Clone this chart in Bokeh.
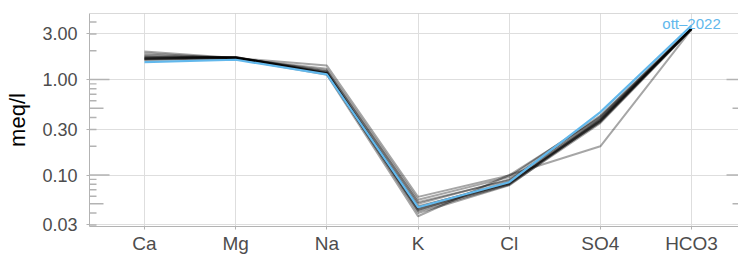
import math
from bokeh.plotting import figure
from bokeh.models import FixedTicker, Span, Range1d, PrintfTickFormatter
from bokeh.embed import file_html
from bokeh.resources import INLINE
from bokeh.core.properties import value

ions = ["Ca", "Mg", "Na", "K", "Cl", "SO4", "HCO3"]

# historical samples (one value per sample for each ion), meq/l
ca = [1.96, 1.88, 1.80, 1.72, 1.68, 1.65, 1.64, 1.62, 1.66, 1.70, 1.60, 1.75]
mg = [1.68, 1.66, 1.70, 1.72, 1.70, 1.71, 1.69, 1.67, 1.72, 1.70, 1.65, 1.68]
na = [1.40, 1.30, 1.22, 1.18, 1.16, 1.15, 1.14, 1.17, 1.16, 1.20, 1.12, 1.25]
k = [0.059, 0.055, 0.050, 0.046, 0.045, 0.044, 0.042, 0.040, 0.047, 0.043, 0.037, 0.052]
cl = [0.099, 0.095, 0.090, 0.085, 0.082, 0.080, 0.079, 0.078, 0.081, 0.083, 0.100, 0.088]
so4 = [0.40, 0.42, 0.38, 0.37, 0.36, 0.38, 0.35, 0.37, 0.39, 0.36, 0.20, 0.41]
hco3 = [3.40, 3.45, 3.42, 3.38, 3.40, 3.44, 3.36, 3.42, 3.40, 3.38, 3.35, 3.46]

# highlighted latest sample
latest = [1.52, 1.61, 1.13, 0.046, 0.084, 0.455, 3.68]
latest_label = "ott\u20132022"

y_breaks = [0.03, 0.1, 0.3, 1, 3]

FONT = "Liberation Sans"
GRID = "#dedede"
BORDER = "#b3b3b3"
TXT = "#4d4d4d"
BLUE = "#62B8EC"

xpos = list(range(1, len(ions) + 1))
x_lo, x_hi = 0.397, 7.515
panel_right = 7.603
y_lo, y_hi = 0.0289, 4.91

p = figure(width=738, height=256, y_axis_type="log",
           x_range=Range1d(x_lo, x_hi), y_range=Range1d(y_lo, y_hi),
           output_backend="svg", toolbar_location=None,
           min_border_left=89, min_border_top=13, min_border_bottom=30,
           min_border_right=0)
p.outline_line_color = None
p.background_fill_color = "white"

# grids
p.xgrid.ticker = FixedTicker(ticks=xpos)
p.ygrid.ticker = FixedTicker(ticks=y_breaks)
for g in (p.xgrid, p.ygrid):
    g.grid_line_color = GRID
    g.grid_line_width = 1

# axes
for ax in (p.xaxis, p.yaxis):
    ax.axis_line_color = BORDER
    ax.axis_line_width = 1
    ax.major_tick_line_color = BORDER
    ax.major_tick_out = 3
    ax.major_tick_in = 0
    ax.minor_tick_line_color = None
    ax.major_label_text_color = TXT
    ax.major_label_text_font = FONT

p.xaxis.ticker = FixedTicker(ticks=xpos)
p.xaxis.major_label_overrides = {x: lab for x, lab in zip(xpos, ions)}
p.xaxis.major_label_text_font_size = "19px"
p.xaxis.major_label_standoff = 3

p.yaxis.ticker = FixedTicker(ticks=y_breaks, minor_ticks=[])
p.yaxis.formatter = PrintfTickFormatter(format="%.2f")
p.yaxis.major_label_text_font_size = "18px"
p.yaxis.major_label_standoff = 9
p.yaxis.axis_label = "meq/l"
p.yaxis.axis_label_text_font = FONT
p.yaxis.axis_label_text_font_style = "normal"
p.yaxis.axis_label_text_font_size = "22px"
p.yaxis.axis_label_text_color = "black"
p.yaxis.axis_label_standoff = 9

# top panel border
p.add_layout(Span(location=y_hi, dimension="width", line_color=BORDER, line_width=1))

# log ticks (annotation_logticks style)
long_v, mid_v, short_v = [], [], []
for e in range(-2, 1):
    for m in range(1, 10):
        v = m * 10 ** e
        if y_lo <= v <= y_hi:
            if m == 1:
                long_v.append(v)
            elif m == 5:
                mid_v.append(v)
            else:
                short_v.append(v)
for vals, ln in ((long_v, 20), (mid_v, 14), (short_v, 7)):
    p.ray(x=[x_lo] * len(vals), y=vals, length=ln, angle=0, length_units="screen",
          line_color=BORDER, line_width=1.4)
    p.ray(x=[panel_right] * len(vals), y=vals, length=ln, angle=math.pi,
          length_units="screen", line_color=BORDER, line_width=1.4)

# history lines
for i in range(len(ca)):
    ys = [ca[i], mg[i], na[i], k[i], cl[i], so4[i], hco3[i]]
    p.line(xpos, ys, line_color="black", line_alpha=0.35, line_width=2,
           line_join="round")

# latest sample
p.line(xpos, latest, line_color=BLUE, line_width=2.2, line_join="round")
p.text(x=[xpos[-1]], y=[latest[-1]], text=[latest_label], text_align="center",
       text_baseline="middle", y_offset=-2, text_color=BLUE,
       text_font=value(FONT), text_font_size="15px")

open("out.html", "w").write(file_html(p, INLINE))
